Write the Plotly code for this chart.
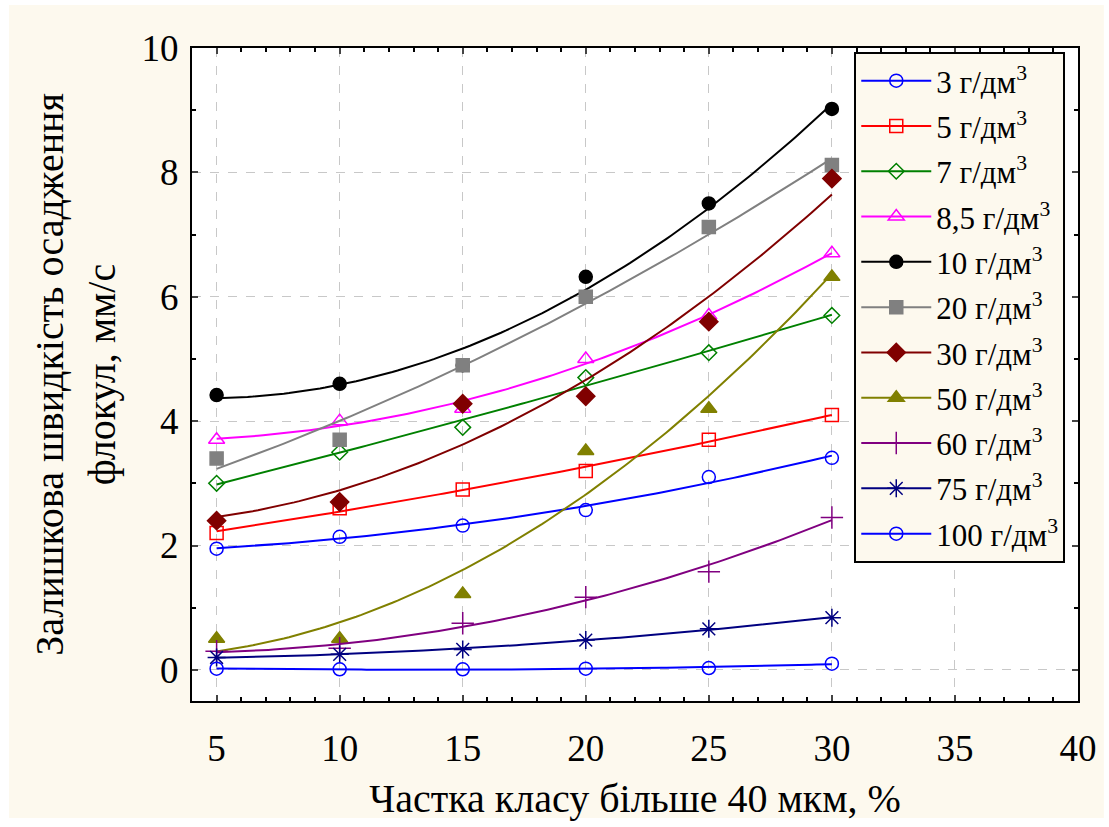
import numpy as np
import plotly.graph_objects as go

# ---- data ----
x_vals = [5, 10, 15, 20, 25, 30]

names = ["3 г/дм<sup>3</sup>", "5 г/дм<sup>3</sup>", "7 г/дм<sup>3</sup>", "8,5 г/дм<sup>3</sup>",
         "10 г/дм<sup>3</sup>", "20 г/дм<sup>3</sup>", "30 г/дм<sup>3</sup>", "50 г/дм<sup>3</sup>",
         "60 г/дм<sup>3</sup>", "75 г/дм<sup>3</sup>", "100 г/дм<sup>3</sup>"]

y_3 = [1.95, 2.14, 2.32, 2.57, 3.10, 3.41]
y_5 = [2.20, 2.60, 2.90, 3.20, 3.70, 4.10]
y_7 = [3.00, 3.50, 3.90, 4.70, 5.10, 5.70]
y_8_5 = [3.70, 4.00, 4.20, 5.00, 5.70, 6.70]
y_10 = [4.42, 4.60, 4.90, 6.32, 7.50, 9.02]
y_20 = [3.40, 3.70, 4.90, 6.00, 7.12, 8.12]
y_30 = [2.40, 2.70, 4.28, 4.40, 5.60, 7.90]
y_50 = [0.50, 0.50, 1.22, 3.52, 4.20, 6.32]
y_60 = [0.30, 0.35, 0.75, 1.17, 1.58, 2.45]
y_75 = [0.20, 0.25, 0.33, 0.48, 0.66, 0.84]
y_100 = [0.02, 0.01, 0.01, 0.02, 0.03, 0.10]

series = [y_3, y_5, y_7, y_8_5, y_10, y_20, y_30, y_50, y_60, y_75, y_100]

x_ticks = [5, 10, 15, 20, 25, 30, 35, 40]
y_ticks = [0, 2, 4, 6, 8, 10]

# ---- styles ----
colors = ["#0000FF", "#FF0000", "#008000", "#FF00FF", "#000000", "#808080",
          "#800000", "#808000", "#800080", "#000080", "#0000FF"]
symbols = ["circle-open", "square-open", "diamond-open", "triangle-up-open", "circle",
           "square", "diamond", "triangle-up", "cross-thin-open", "asterisk-open", "circle-open"]
sizes = [13, 13, 12, 14, 13, 13, 14, 14, 16, 15, 13]

font_family = "'Liberation Serif', 'Times New Roman', serif"
cream = "#FDF9EE"

fig = go.Figure()
xfit = np.linspace(5, 30, 120)
for i, (nm, ys) in enumerate(zip(names, series)):
    c = colors[i]
    coef = np.polyfit(x_vals, ys, 2)
    yfit = np.polyval(coef, xfit)
    grp = f"g{i}"
    fig.add_trace(go.Scatter(x=xfit, y=yfit, mode="lines", line=dict(color=c, width=2),
                             showlegend=False, legendgroup=grp, hoverinfo="skip"))
    fig.add_trace(go.Scatter(x=x_vals, y=ys, mode="markers",
                             marker=dict(symbol=symbols[i], size=sizes[i], color=c,
                                         line=dict(color=c, width=1.5)),
                             showlegend=False, legendgroup=grp))
    fig.add_trace(go.Scatter(x=[None], y=[None], mode="lines+markers", name=nm,
                             line=dict(color=c, width=2),
                             marker=dict(symbol=symbols[i], size=sizes[i], color=c,
                                         line=dict(color=c, width=1.5)),
                             legendgroup=grp, showlegend=True))

L, R, T, B = 192, 26, 48, 126
W, H = 1109, 827
pw, ph = W - L - R, H - T - B

def px_x(p):
    return (p - L) / pw

def px_y(p):
    return (H - B - p) / ph

fig.update_layout(
    width=W, height=H,
    margin=dict(l=L, r=R, t=T, b=B),
    paper_bgcolor="white",
    plot_bgcolor="white",
    font=dict(family=font_family, color="black", size=30),
    shapes=[
        dict(type="rect", xref="paper", yref="paper", layer="below",
             x0=px_x(8), x1=px_x(1109), y0=px_y(818), y1=px_y(5),
             fillcolor=cream, line=dict(width=0)),
        dict(type="rect", xref="paper", yref="paper", layer="below",
             x0=0, x1=1, y0=0, y1=1, fillcolor="white", line=dict(width=0)),
    ],
    legend=dict(
        x=px_x(858), y=px_y(52), xanchor="left", yanchor="top",
        bgcolor=cream, bordercolor="black", borderwidth=2,
        font=dict(family=font_family, size=31, color="black"),
        traceorder="grouped", tracegroupgap=2, itemwidth=70,
    ),
    xaxis=dict(
        range=[4, 40], tickvals=x_ticks, ticks="inside", ticklen=6, tickwidth=2,
        showline=True, linecolor="black", linewidth=2, mirror="ticks",
        showgrid=True, gridcolor="#c8c8c8", griddash="dash", gridwidth=1,
        zeroline=False, tickfont=dict(size=37), ticklabelstandoff=14,
        minor=dict(dtick=1, tick0=0, ticks="inside", ticklen=4, tickcolor="black", showgrid=False),
        title=dict(text="Частка класу більше 40 мкм, %", font=dict(size=40), standoff=16),
    ),
    yaxis=dict(
        range=[-0.5, 10], tickvals=y_ticks, ticks="inside", ticklen=6, tickwidth=2,
        showline=True, linecolor="black", linewidth=2, mirror="ticks",
        showgrid=True, gridcolor="#c8c8c8", griddash="dash", gridwidth=1,
        zeroline=False, tickfont=dict(size=37), ticklabelstandoff=4,
        minor=dict(dtick=1, tick0=0, ticks="inside", ticklen=4, tickcolor="black", showgrid=False),
        title=dict(text="Залишкова швидкість осадження<br>флокул, мм/с", font=dict(size=40), standoff=14),
    ),
)

fig.write_html("out.html")
